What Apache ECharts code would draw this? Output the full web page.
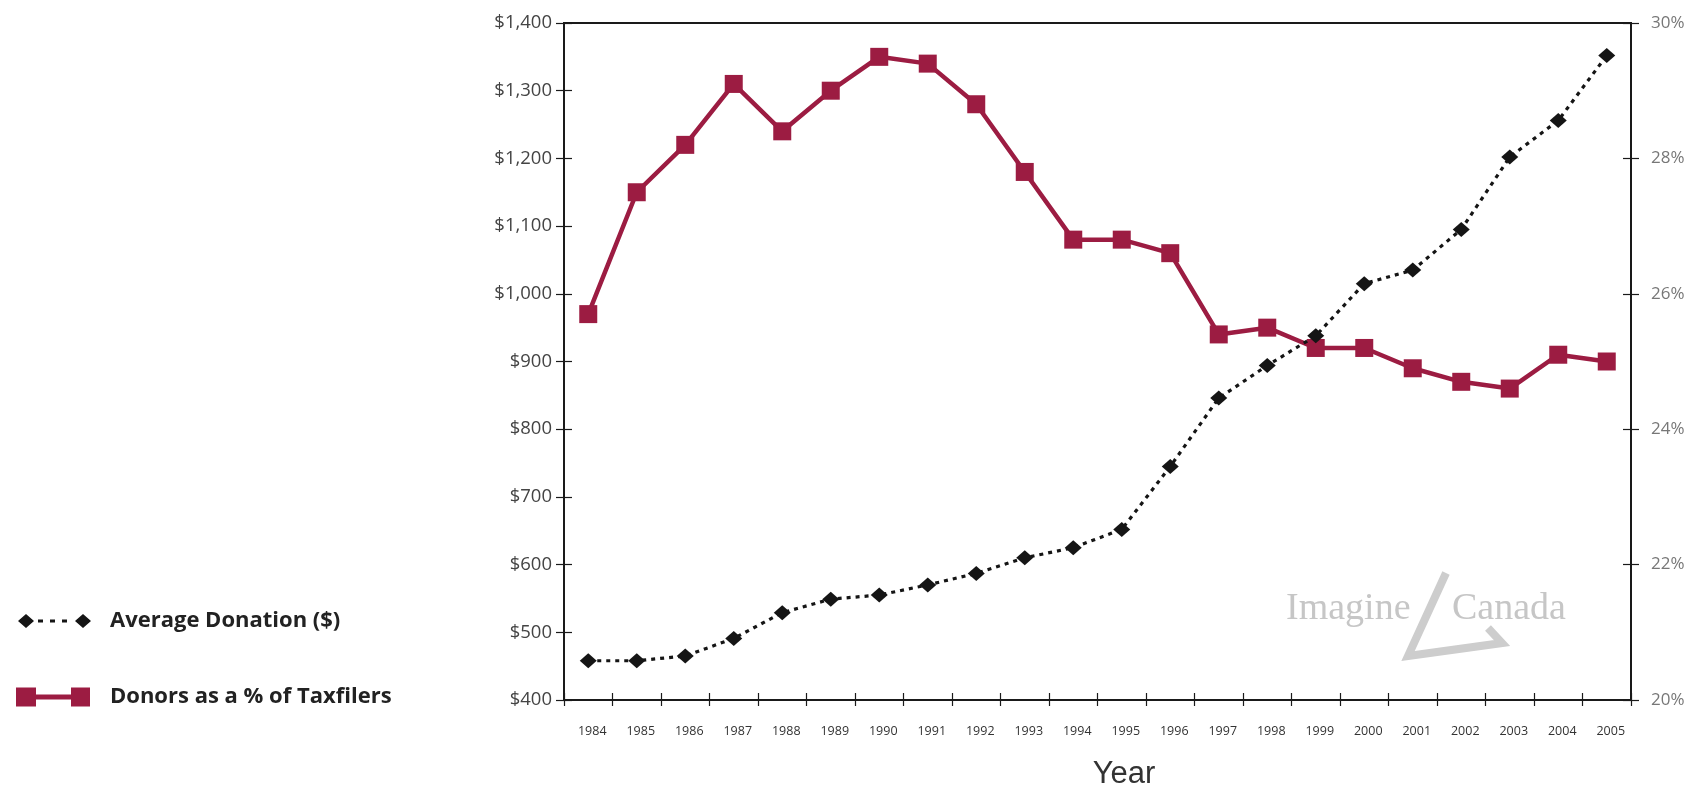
<!DOCTYPE html>
<html>
<head>
<meta charset="utf-8">
<script src="https://cdn.jsdelivr.net/npm/echarts@6/dist/echarts.min.js"></script>
<style>
html,body{margin:0;padding:0;background:#fff;}
#chart{width:1694px;height:785px;}
</style>
</head>
<body>
<div id="chart"></div>
<script>
const years = ['1984','1985','1986','1987','1988','1989','1990','1991','1992','1993','1994','1995','1996','1997','1998','1999','2000','2001','2002','2003','2004','2005'];
const avgDonation = [458, 458, 465, 491, 529, 549, 555, 570, 587, 610, 625, 652, 745, 846, 894, 938, 1015, 1035, 1095, 1202, 1256, 1352];
const donorsPct = [25.7, 27.5, 28.2, 29.1, 28.4, 29.0, 29.5, 29.4, 28.8, 27.8, 26.8, 26.8, 26.6, 25.4, 25.5, 25.2, 25.2, 24.9, 24.7, 24.6, 25.1, 25.0];
const seriesNames = ['Average Donation ($)', 'Donors as a % of Taxfilers'];

const maroon = '#9c1c42';
const black = '#151515';
const labelFont = 'Open Sans';

const diamondIcon = 'path://M0,0 L0,0 Z M76,20 L76,20 Z ' +
  'M3,10 L11,3 L19,10 L11,17 Z ' +
  'M60,10 L68,3 L76,10 L68,17 Z ' +
  'M23,8.5 L28,8.5 L28,11.5 L23,11.5 Z ' +
  'M35,8.5 L40,8.5 L40,11.5 L35,11.5 Z ' +
  'M47,8.5 L52,8.5 L52,11.5 L47,11.5 Z';
const squareIcon = 'path://M0,0 L0,0 Z M76,20 L76,20 Z ' +
  'M1,0.5 L21,0.5 L21,19.5 L1,19.5 Z ' +
  'M56,0.5 L75,0.5 L75,19.5 L56,19.5 Z ' +
  'M20,7.5 L57,7.5 L57,12.5 L20,12.5 Z';

const chart = echarts.init(document.getElementById('chart'), null, {renderer: 'canvas'});

const axisLineStyle = {color: '#1a1a1a', width: 2};
const tickStyle = {color: '#1a1a1a', width: 1.2};

chart.setOption({
  backgroundColor: '#ffffff',
  animation: false,
  grid: {
    left: 564, right: 63, top: 23, bottom: 85,
    outerBoundsMode: 'none',
    containLabel: false,
    show: true, borderColor: '#1a1a1a', borderWidth: 2, backgroundColor: 'transparent'
  },
  legend: {
    orient: 'vertical',
    left: 15,
    top: 610,
    padding: 0,
    itemWidth: 76,
    itemHeight: 20,
    itemGap: 54,
    selectedMode: false,
    itemStyle: {borderWidth: 0},
    textStyle: {
      fontFamily: labelFont, fontSize: 22, fontWeight: 'bold', color: '#222',
      padding: [0, 0, 0, 14]
    },
    data: [
      {name: seriesNames[0], icon: diamondIcon},
      {name: seriesNames[1], icon: squareIcon}
    ]
  },
  xAxis: [
    {
      type: 'category',
      data: years,
      position: 'bottom',
      boundaryGap: true,
      axisLine: {show: true, lineStyle: axisLineStyle},
      axisTick: {show: true, inside: false, length: 6, lineStyle: tickStyle},
      axisLabel: {fontFamily: labelFont, fontSize: 12.5, color: '#333', margin: 25, interval: 0, padding: [0, 0, 0, 8]},
      splitLine: {show: false},
      name: 'Year',
      nameLocation: 'middle',
      nameGap: 59,
      nameTextStyle: {fontFamily: 'Liberation Sans', fontSize: 31, color: '#333', padding: [0, 0, 0, 53]}
    },
    {
      type: 'category',
      data: years,
      position: 'bottom',
      boundaryGap: true,
      axisLine: {show: false},
      axisTick: {show: true, inside: true, length: 7, lineStyle: tickStyle},
      axisLabel: {show: false},
      splitLine: {show: false}
    }
  ],
  yAxis: [
    {
      type: 'value',
      position: 'left',
      min: 400, max: 1400, interval: 100,
      axisLine: {show: true, lineStyle: axisLineStyle},
      axisTick: {show: true, inside: false, length: 8, lineStyle: tickStyle},
      axisLabel: {
        fontFamily: labelFont, fontSize: 18.5, color: '#444', margin: 12,
        formatter: v => '$' + v.toLocaleString('en-US')
      },
      splitLine: {show: false}
    },
    {
      type: 'value',
      position: 'right',
      min: 20, max: 30, interval: 2,
      axisLine: {show: true, lineStyle: {color: '#1a1a1a', width: 1.5}},
      axisTick: {show: true, inside: false, length: 8, lineStyle: tickStyle},
      axisLabel: {
        fontFamily: labelFont, fontSize: 17, color: '#777', margin: 20,
        formatter: v => v + '%'
      },
      splitLine: {show: false}
    },
    {
      type: 'value',
      position: 'left',
      min: 400, max: 1400, interval: 100,
      axisLine: {show: false},
      axisTick: {show: true, inside: true, length: 8, lineStyle: tickStyle},
      axisLabel: {show: false},
      splitLine: {show: false}
    },
    {
      type: 'value',
      position: 'right',
      min: 20, max: 30, interval: 2,
      axisLine: {show: false},
      axisTick: {show: true, inside: true, length: 8, lineStyle: tickStyle},
      axisLabel: {show: false},
      splitLine: {show: false}
    }
  ],
  graphic: [
    {
      type: 'text', left: 1286, top: 590, z: 0, silent: true,
      style: {text: 'Imagine', font: '38px "Liberation Serif"', fill: '#c6c6c6'}
    },
    {
      type: 'text', left: 1452, top: 590, z: 0, silent: true,
      style: {text: 'Canada', font: '38px "Liberation Serif"', fill: '#c6c6c6'}
    },
    {
      type: 'polyline', z: 0, silent: true,
      shape: {points: [[1446, 573], [1408, 656], [1502, 643], [1488, 628]]},
      style: {stroke: '#cdcdcd', lineWidth: 8, fill: null, lineJoin: 'miter'}
    }
  ],
  series: [
    {
      name: seriesNames[1],
      type: 'line',
      yAxisIndex: 1,
      data: donorsPct,
      symbol: 'rect',
      symbolSize: 18,
      itemStyle: {color: maroon, borderWidth: 0},
      lineStyle: {color: maroon, width: 4.5},
      z: 3
    },
    {
      name: seriesNames[0],
      type: 'line',
      yAxisIndex: 0,
      data: avgDonation,
      symbol: 'diamond',
      symbolSize: [17, 15],
      itemStyle: {color: black, borderWidth: 0},
      lineStyle: {color: black, width: 3.2, type: [4, 5]},
      z: 4
    }
  ]
});
</script>
</body>
</html>
